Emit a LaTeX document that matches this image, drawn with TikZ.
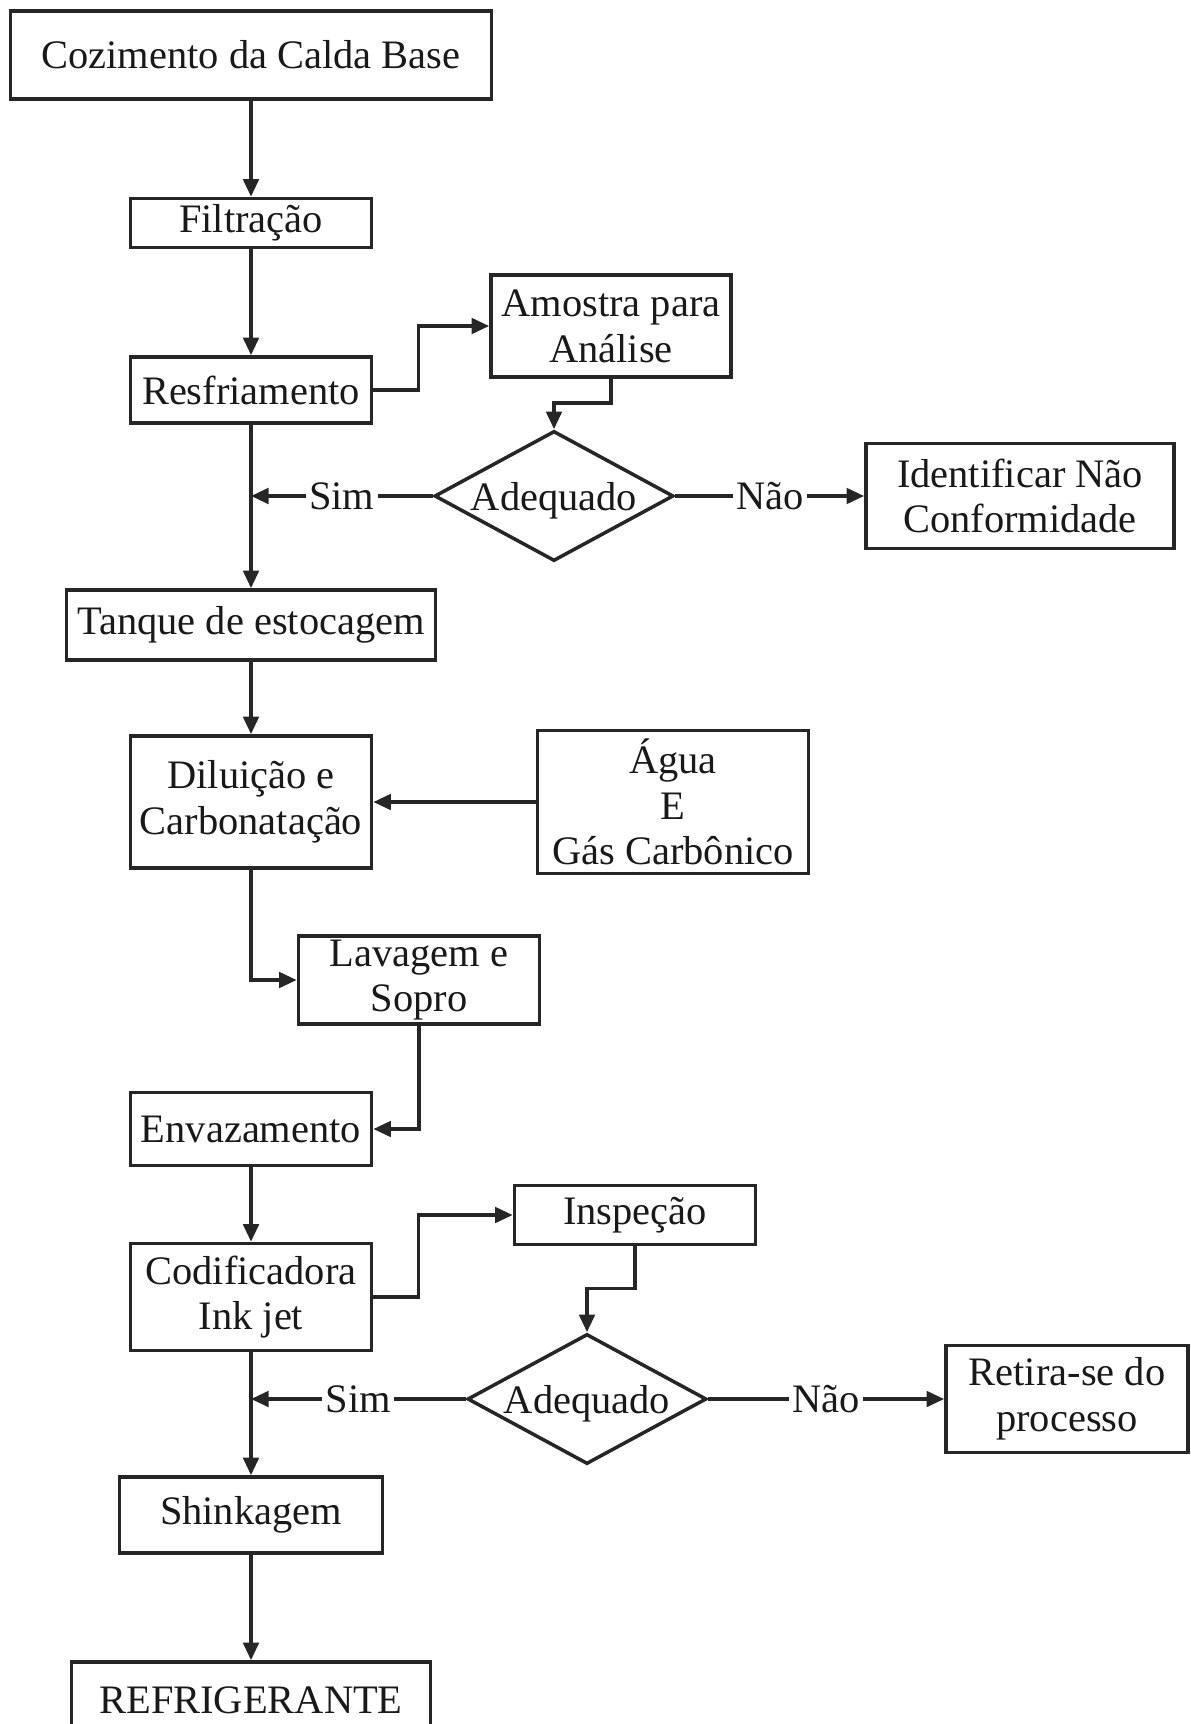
\documentclass[tikz,border=0pt]{standalone}
\usepackage{fontspec}
\setmainfont{Liberation Serif}
\usetikzlibrary{shapes.geometric,arrows.meta}

\begin{document}
\begin{tikzpicture}[x=0.01cm, y=-0.01cm,
    every node/.style={font=\fontsize{11.5}{13}\selectfont, text=black!90},
    box/.style={draw=black!85, line width=1pt, inner sep=0pt, align=center},
    decision/.style={draw=black!85, diamond, aspect=1.84, line width=1pt, inner sep=0pt, minimum width=2.39cm, minimum height=1.3cm},
    lbl/.style={fill=white, inner sep=1pt},
    arr/.style={draw=black!85, -{Triangle[length=5pt,width=4.4pt]}, line width=1pt}]
        \useasboundingbox (0,0) rectangle (1191,1724);
        \path (251,55) node[box, minimum width=4.81cm, minimum height=0.88cm] (coz) {Cozimento da Calda Base}
            (251,223) node[box, minimum width=2.41cm, minimum height=0.49cm] (fil) {Filtração}
            (251,390) node[box, minimum width=2.41cm, minimum height=0.66cm] (res) {Resfriamento}
            (611,326) node[box, minimum width=2.40cm, minimum height=1.02cm] (amo) {Amostra para\\Análise}
            (554,496) node[decision, text depth=0pt] (ad) {Adequado}
            (1020,496) node[box, minimum width=3.08cm, minimum height=1.05cm] (nc) {Identificar Não\\Conformidade}
            (251,625) node[box, minimum width=3.69cm, minimum height=0.70cm] (tan) {Tanque de estocagem}
            (251,802) node[box, minimum width=2.41cm, minimum height=1.32cm] (dil) {Diluição e\\Carbonatação}
            (673,802) node[box, minimum width=2.71cm, minimum height=1.43cm] (agu) {Água\\E\\Gás Carbônico}
            (419,980) node[box, minimum width=2.41cm, minimum height=0.88cm] (lav) {Lavagem e\\Sopro}
            (251,1129) node[box, minimum width=2.41cm, minimum height=0.73cm] (env) {Envazamento}
            (251,1297) node[box, minimum width=2.41cm, minimum height=1.07cm] (cod) {Codificadora\\Ink jet}
            (635,1215) node[box, minimum width=2.41cm, minimum height=0.59cm] (ins) {Inspeção}
            (587,1399) node[decision, text depth=0pt] (ad2) {Adequado}
            (1067,1399) node[box, minimum width=2.42cm, minimum height=1.07cm] (ret) {Retira-se do\\processo}
            (251,1515) node[box, minimum width=2.63cm, minimum height=0.76cm] (shi) {Shinkagem}
            (251,1700) node[box, minimum width=3.59cm, minimum height=0.76cm] (ref) {REFRIGERANTE};
        \draw[arr] (coz) -- (fil);
        \draw[arr] (fil) -- (res);
        \draw[arr] (res) -- (tan);
        \draw[arr] (res.east) -- ++(45,0) |- (amo.west);
        \draw[arr] (amo.south) -- ++(0,24) -| (ad.north);
        \draw[arr] (ad.west) -- node[lbl] {Sim} (ad.west -| res.south);
        \draw[arr] (ad.east) -- node[lbl] {Não} (nc.west);
        \draw[arr] (tan) -- (dil);
        \draw[arr] (agu) -- (dil);
        \draw[arr] (dil.south) |- (lav.west);
        \draw[arr] (lav.south) |- (env.east);
        \draw[arr] (env) -- (cod);
        \draw[arr] (cod.east) -- ++(45,0) |- (ins.west);
        \draw[arr] (ins.south) -- ++(0,42) -| (ad2.north);
        \draw[arr] (ad2.west) -- node[lbl] {Sim} (ad2.west -| cod.south);
        \draw[arr] (ad2.east) -- node[lbl] {Não} (ret.west);
        \draw[arr] (cod) -- (shi);
        \draw[arr] (shi) -- (ref);
    \end{tikzpicture}
\end{document}
